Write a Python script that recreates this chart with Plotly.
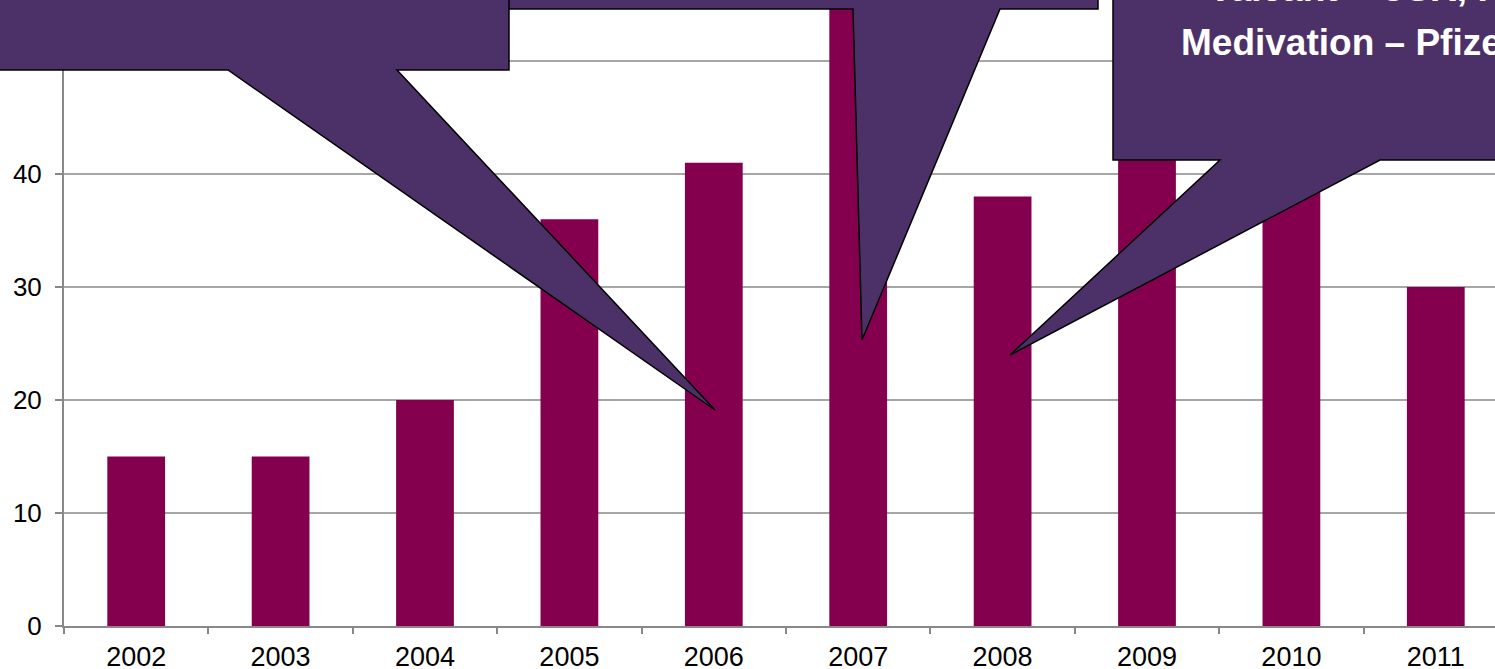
import plotly.graph_objects as go

years = ["2002", "2003", "2004", "2005", "2006", "2007", "2008", "2009", "2010", "2011"]
deals = [15, 15, 20, 36, 41, 58, 38, 44, 41, 30]  # 2007, 2009, 2010 tops hidden under callouts (estimated)
y_ticks = [0, 10, 20, 30, 40, 50]

W, H = 1495, 669
L, R, T, B = 64, 0, 0, 43
PW, PH = W - L - R, H - T - B


def px(x, y):
    return (x - L) / PW, (H - B - y) / PH


def path(points):
    pts = [px(x, y) for x, y in points]
    return "M " + " L ".join(f"{a:.5f},{b:.5f}" for a, b in pts) + " Z"


fill = "#4C3168"
callouts = [
    [(507, -20), (1098, -20), (1098, 9), (1000, 9), (862, 340), (853, 9), (507, 9)],
    [(-20, -20), (509, -20), (509, 70), (397, 70), (715, 410), (228, 70), (-20, 70)],
    [(1113, -20), (1620, -20), (1620, 160), (1380, 160), (1010, 355), (1220, 160), (1113, 160)],
]

fig = go.Figure(
    go.Bar(x=years, y=deals, marker=dict(color="#84004E", line=dict(width=0)))
)

shapes = [
    dict(type="path", xref="paper", yref="paper", path=path(c),
         fillcolor=fill, line=dict(color="black", width=1.5), layer="above")
    for c in callouts
]

ann = []
for text, x0, yc in [("Valeant – CSR, Pfizer", 1206, -11), ("Medivation – Pfizer", 1179, 43)]:
    ax, ay = px(x0, yc)
    ann.append(dict(text=f"<b>{text}</b>", x=ax, y=ay, xref="paper", yref="paper",
                    xanchor="left", yanchor="middle", showarrow=False,
                    font=dict(family="Liberation Sans, Arial", size=37, color="white")))

fig.update_layout(
    width=W, height=H,
    margin=dict(l=L, r=R, t=T, b=B, autoexpand=False),
    paper_bgcolor="white", plot_bgcolor="white",
    bargap=0.6,
    showlegend=False,
    font=dict(family="Liberation Sans, Arial", size=25, color="black"),
    shapes=shapes,
    annotations=ann,
    xaxis=dict(type="category", range=[-0.5, 9.5 - 13 / 144.4], automargin=False,
               showline=True, linecolor="#888888", linewidth=2,
               ticks="outside", tickson="boundaries", ticklen=6, tickcolor="#888888",
               tickwidth=2, showgrid=False, tickfont=dict(size=27), ticklabelstandoff=6),
    yaxis=dict(range=[0, 55.4], tickvals=y_ticks, automargin=False,
               showline=True, linecolor="#888888",
               linewidth=2, ticks="outside", ticklen=7, tickcolor="#888888", tickwidth=2,
               showgrid=True, gridcolor="#A6A6A6", gridwidth=1.5, zeroline=False,
               tickfont=dict(size=26), ticklabelstandoff=8),
)

fig.write_html("out.html", config={"displayModeBar": False},
               post_script="document.body.style.margin='0';document.body.style.overflow='hidden';")
